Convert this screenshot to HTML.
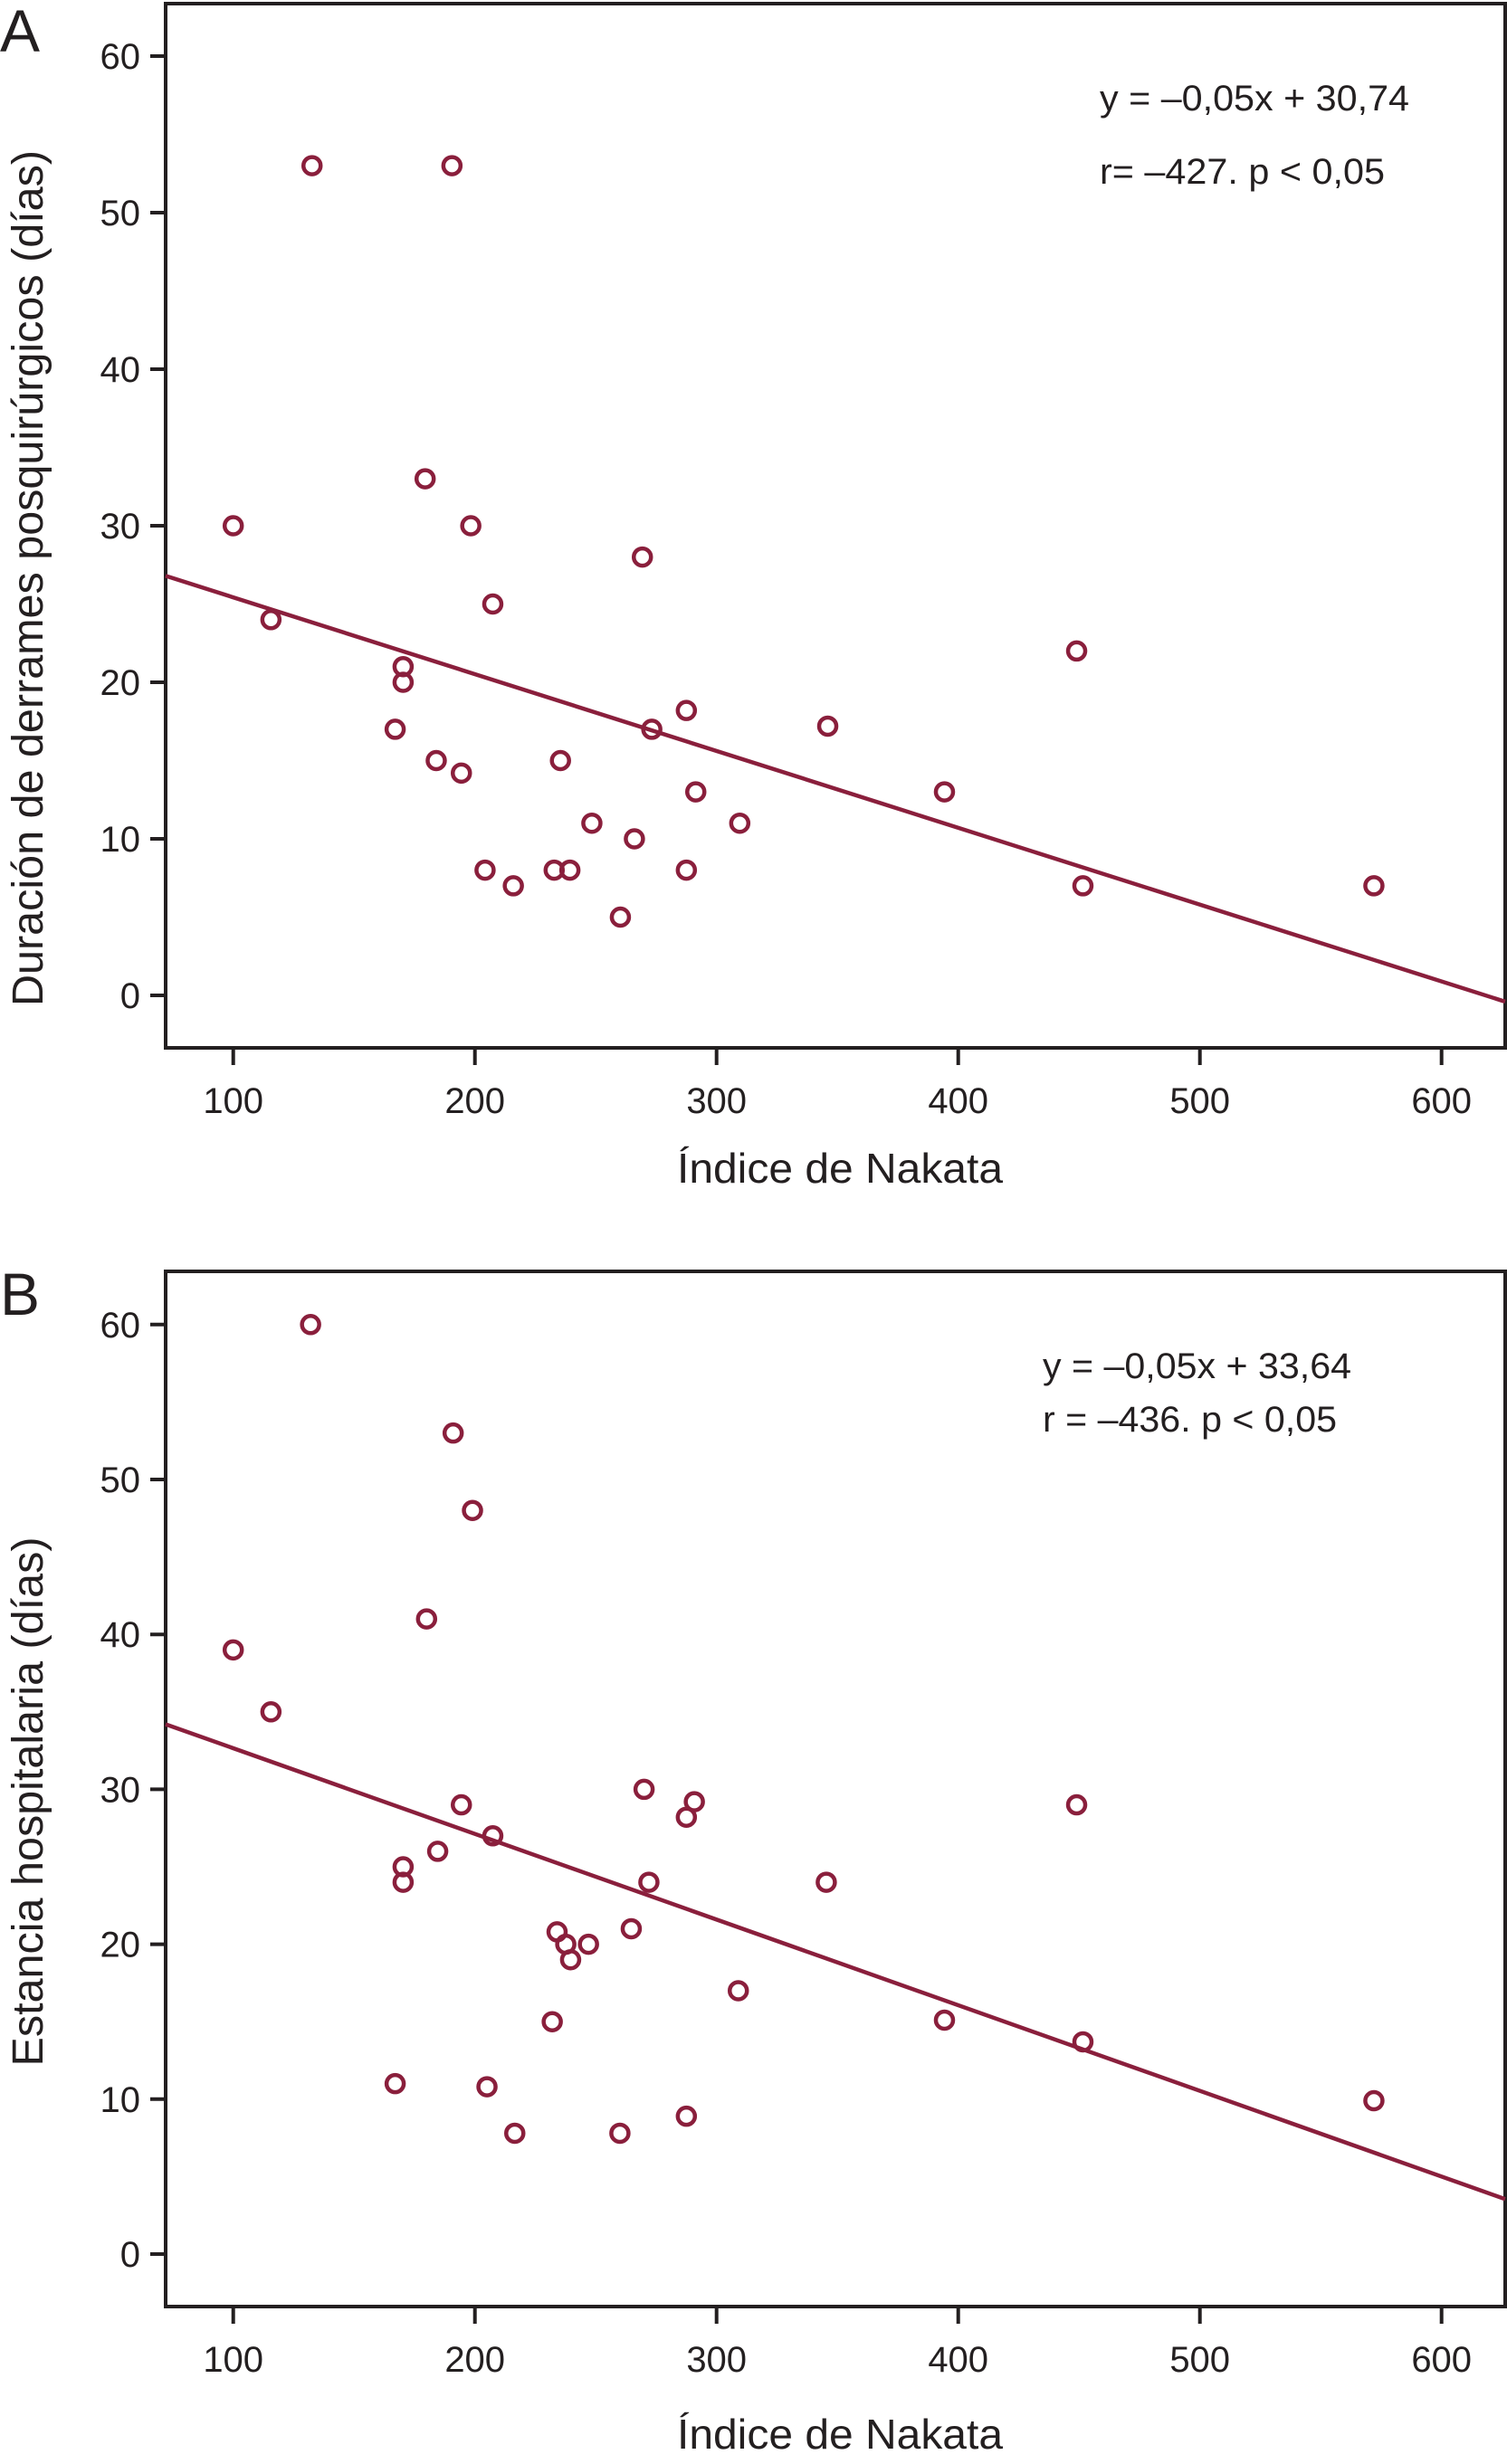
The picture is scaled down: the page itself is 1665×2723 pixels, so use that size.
<!DOCTYPE html>
<html><head><meta charset="utf-8"><style>
html,body{margin:0;padding:0;background:#fff;}
svg{display:block;font-family:"Liberation Sans",Arial,sans-serif;}
</style></head><body>
<svg id="chart" width="1665" height="2723" viewBox="0 0 1665 2723" xmlns="http://www.w3.org/2000/svg"></svg>
<script>
const xTicks = [100, 200, 300, 400, 500, 600];
const yTicks = [0, 10, 20, 30, 40, 50, 60];
const nakataA = [100,115.6,132.6,190.5,179.4,198.3,207.4,170.3,170.3,167,184,194.4,204.2,215.9,232.8,239.3,235.4,248.4,260.2,266,269.3,273.2,287.5,287.5,291.4,309.6,346,394.3,449,451.6,572];
const derramesA = [30,24,53,53,33,30,25,21,20,17,15,14.2,8,7,8,8,15,11,5,10,28,17,18.2,8,13,11,17.2,13,22,7,7];
const nakataB = [100,115.6,132,191,199,180,194.4,207.4,170.3,170.3,184.6,167,205,216.5,232,234,237.6,239.6,247,260,264.7,270,272,287.5,290.8,287.5,309,345.4,394.3,449,451.6,572];
const estanciaB = [39,35,60,53,48,41,29,27,25,24,26,11,10.8,7.8,15,20.8,20,19,20,7.8,21,30,24,28.2,29.2,8.9,17,24,15.1,29,13.7,9.9];
const fitA = [[72,26.8],[626.3,-0.4]];
const fitB = [[72,34.2],[626.3,3.55]];
const eqA = ["y = \u20130,05x + 30,74", "r= \u2013427. p < 0,05"];
const eqB = ["y = \u20130,05x + 33,64", "r = \u2013436. p < 0,05"];

const NS = "http://www.w3.org/2000/svg";
const svg = document.getElementById('chart');
const INK = "#231f20", RED = "#8a1f3c";
function mk(tag, attrs, parent){const e=document.createElementNS(NS,tag);for(const k in attrs)e.setAttribute(k,attrs[k]);(parent||svg).appendChild(e);return e;}
const xScale = v => 257.7 + (v-100)*2.67;

function panel(cfg){
  const g = mk('g',{});
  
  
  const yScale = v => cfg.y0 - v*cfg.ppu;
  const L=183, R=1663, T=cfg.top, B=cfg.bottom;
  const box = mk('rect',{x:L,y:T,width:R-L,height:B-T,fill:'none',stroke:INK,'stroke-width':4},g);
  
  
  const lt = mk('text',{x:0,y:cfg.letterY,'font-size':66,fill:INK},g);
  lt.textContent = cfg.letter;
  
  
  yTicks.forEach(t=>{
    const y=yScale(t);
    mk('line',{x1:166,x2:L,y1:y,y2:y,stroke:INK,'stroke-width':4},g);
    const tx = mk('text',{x:155,y:y+14,'font-size':40,'text-anchor':'end',fill:INK},g);
    tx.textContent = t;
    
    
  });
  xTicks.forEach(t=>{
    const x=xScale(t);
    mk('line',{x1:x,x2:x,y1:B,y2:B+19,stroke:INK,'stroke-width':4},g);
    const tx = mk('text',{x:x,y:B+72,'font-size':40,'text-anchor':'middle',fill:INK},g);
    tx.textContent = t;
    
    
  });
  const xt = mk('text',{x:748,y:cfg.xTitleY,'font-size':46,fill:INK,textLength:360,lengthAdjust:'spacingAndGlyphs'},g);
  xt.textContent = "\u00cdndice de Nakata";
  
  
  const yt = mk('text',{x:0,y:0,'font-size':48,fill:INK,'text-anchor':'middle',textLength:cfg.yTitleLen,lengthAdjust:'spacingAndGlyphs',transform:`translate(47,${cfg.yTitleC}) rotate(-90)`},g);
  yt.textContent = cfg.yTitle;
  
  
  const ln = mk('line',{x1:xScale(cfg.fit[0][0]),y1:yScale(cfg.fit[0][1]),x2:xScale(cfg.fit[1][0]),y2:yScale(cfg.fit[1][1]),stroke:RED,'stroke-width':4.5},g);
  
  
  cfg.xs.forEach((v,i)=>{
    const c = mk('circle',{cx:xScale(v),cy:yScale(cfg.ys[i]),r:9.5,fill:'none',stroke:RED,'stroke-width':4.5},g);
    
    
  });
  cfg.eq.forEach((s,i)=>{
    const t = mk('text',{x:cfg.eqX,y:cfg.eqY[i],'font-size':40,fill:INK,textLength:cfg.eqLen[i],lengthAdjust:'spacingAndGlyphs'},g);
    t.textContent = s;
    
    
  });
}

panel({name:'panel-a',letter:'A',letterY:57,top:4,bottom:1158,y0:1100,ppu:17.3,xs:nakataA,ys:derramesA,fit:fitA,eq:eqA,eqX:1215,eqY:[122,203],eqLen:[342,315],xTitleY:1307,yTitle:"Duraci\u00f3n de derrames posquir\u00fargicos (d\u00edas)",yTitleC:639,yTitleLen:946});
panel({name:'panel-b',letter:'B',letterY:1453,top:1405,bottom:2549,y0:2491,ppu:17.12,xs:nakataB,ys:estanciaB,fit:fitB,eq:eqB,eqX:1152,eqY:[1523,1582],eqLen:[341,325],xTitleY:2706,yTitle:"Estancia hospitalaria (d\u00edas)",yTitleC:1991,yTitleLen:585});
</script>
</body></html>
